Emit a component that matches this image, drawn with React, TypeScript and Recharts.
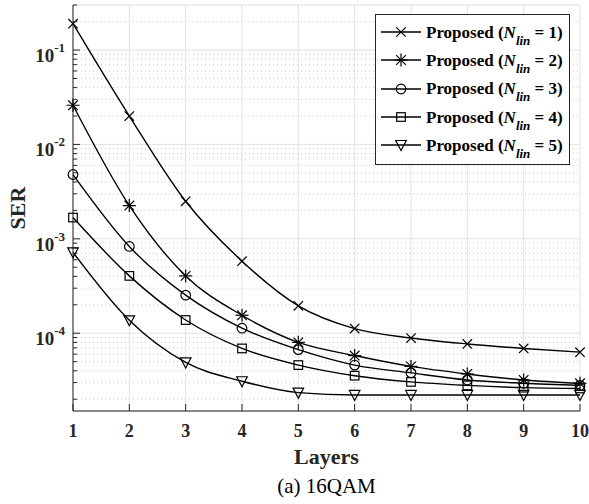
import React from "react";
import {
  LineChart,
  Line,
  XAxis,
  YAxis,
  CartesianGrid,
  Legend,
} from "recharts";

// layers on the x axis
const layers = [1, 2, 3, 4, 5, 6, 7, 8, 9, 10];

// SER, one array per N_lin
const serN1 = [0.19, 0.02, 2.5e-3, 5.8e-4, 1.95e-4, 1.12e-4, 8.9e-5, 7.7e-5, 6.9e-5, 6.3e-5];
const serN2 = [2.6e-2, 2.25e-3, 4.05e-4, 1.55e-4, 8.0e-5, 5.8e-5, 4.45e-5, 3.7e-5, 3.2e-5, 2.95e-5];
const serN3 = [4.8e-3, 8.3e-4, 2.53e-4, 1.13e-4, 6.7e-5, 4.6e-5, 3.8e-5, 3.2e-5, 2.95e-5, 2.8e-5];
const serN4 = [1.68e-3, 4.05e-4, 1.38e-4, 6.9e-5, 4.6e-5, 3.55e-5, 3.05e-5, 2.8e-5, 2.65e-5, 2.6e-5];
const serN5 = [7.2e-4, 1.37e-4, 4.9e-5, 3.1e-5, 2.35e-5, 2.22e-5, 2.22e-5, 2.22e-5, 2.22e-5, 2.22e-5];

const nLinValues = ["1", "2", "3", "4", "5"];
const seriesKeys = ["n1", "n2", "n3", "n4", "n5"];
const markerShapes = ["cross", "star", "circle", "square", "triangle"];

const yDomain: [number, number] = [1.5e-5, 0.3];
const decadeTicks = [1e-4, 1e-3, 1e-2, 1e-1];
const minorTicks = [
  2e-5, 3e-5, 4e-5, 5e-5, 6e-5, 7e-5, 8e-5, 9e-5,
  2e-4, 3e-4, 4e-4, 5e-4, 6e-4, 7e-4, 8e-4, 9e-4,
  2e-3, 3e-3, 4e-3, 5e-3, 6e-3, 7e-3, 8e-3, 9e-3,
  2e-2, 3e-2, 4e-2, 5e-2, 6e-2, 7e-2, 8e-2, 9e-2,
  2e-1, 3e-1,
];
const yTicks = [...minorTicks, ...decadeTicks].sort((a, b) => a - b);

const data = layers.map((layer, i) => ({
  layer,
  n1: serN1[i],
  n2: serN2[i],
  n3: serN3[i],
  n4: serN4[i],
  n5: serN5[i],
}));

const FONT = "'Liberation Serif', 'Times New Roman', serif";
const INK = "#262626";

const isDecade = (v: number) => {
  const l = Math.log10(v);
  return Math.abs(l - Math.round(l)) < 1e-6;
};

function Marker({ shape, cx, cy }: { shape: string; cx: number; cy: number }) {
  const p = { stroke: "#000", strokeWidth: 1.2, fill: "none" };
  switch (shape) {
    case "cross":
      return (
        <g {...p}>
          <line x1={cx - 4.7} y1={cy - 4.7} x2={cx + 4.7} y2={cy + 4.7} />
          <line x1={cx - 4.7} y1={cy + 4.7} x2={cx + 4.7} y2={cy - 4.7} />
        </g>
      );
    case "star":
      return (
        <g {...p}>
          <line x1={cx - 4.8} y1={cy - 4.8} x2={cx + 4.8} y2={cy + 4.8} />
          <line x1={cx - 4.8} y1={cy + 4.8} x2={cx + 4.8} y2={cy - 4.8} />
          <line x1={cx - 6.5} y1={cy} x2={cx + 6.5} y2={cy} />
          <line x1={cx} y1={cy - 6.5} x2={cx} y2={cy + 6.5} />
        </g>
      );
    case "circle":
      return <circle cx={cx} cy={cy} r={4.8} {...p} />;
    case "square":
      return <rect x={cx - 4.3} y={cy - 4.3} width={8.6} height={8.6} {...p} />;
    default:
      return (
        <polygon
          points={`${cx - 5.3},${cy - 4.5} ${cx + 5.3},${cy - 4.5} ${cx},${cy + 5.5}`}
          {...p}
        />
      );
  }
}

const XTickBottom = (props: any) => {
  const { x, y, payload } = props;
  return (
    <g>
      <line x1={x} y1={y} x2={x} y2={y - 7} stroke={INK} />
      <text
        x={x}
        y={y + 26}
        textAnchor="middle"
        fontFamily={FONT}
        fontWeight="bold"
        fontSize={18}
        fill={INK}
      >
        {payload.value}
      </text>
    </g>
  );
};

const XTickTop = (props: any) => {
  const { x, y } = props;
  return <line x1={x} y1={y} x2={x} y2={y + 7} stroke={INK} />;
};

const YTickLeft = (props: any) => {
  const { x, y, payload } = props;
  const v = payload.value as number;
  const major = isDecade(v);
  return (
    <g>
      <line x1={x} y1={y} x2={x + (major ? 7 : 4)} y2={y} stroke={INK} />
      {major && (
        <text
          x={x - 8}
          y={y + 12}
          textAnchor="end"
          fontFamily={FONT}
          fontWeight="bold"
          fontSize={19}
          fill={INK}
        >
          10
          <tspan dy={-10} fontSize={13}>
            {String(Math.round(Math.log10(v)))}
          </tspan>
        </text>
      )}
    </g>
  );
};

const YTickRight = (props: any) => {
  const { x, y, payload } = props;
  const major = isDecade(payload.value);
  return <line x1={x} y1={y} x2={x - (major ? 7 : 4)} y2={y} stroke={INK} />;
};

const LegendBox = () => (
  <div
    style={{
      width: 195,
      boxSizing: "border-box",
      border: "1px solid #262626",
      background: "#fff",
      padding: "3px 0 5px 5px",
      fontFamily: FONT,
      fontWeight: "bold",
      fontSize: 17,
      color: "#000",
    }}
  >
    {nLinValues.map((n, i) => (
      <div
        key={n}
        style={{ display: "flex", alignItems: "center", height: 28.3, whiteSpace: "nowrap" }}
      >
        <svg width={40} height={20} style={{ marginRight: 5, flexShrink: 0 }}>
          <line x1={0} y1={10} x2={40} y2={10} stroke="#000" strokeWidth={1.3} />
          <Marker shape={markerShapes[i]} cx={20} cy={10} />
        </svg>
        <span style={{ lineHeight: "17px" }}>
          Proposed (<i>N</i>
          <sub style={{ fontSize: 13, verticalAlign: -7, fontStyle: "italic", lineHeight: 0 }}>
            lin
          </sub>{" "}
          = {n})
        </span>
      </div>
    ))}
  </div>
);

export default function App() {
  return (
    <div style={{ position: "absolute", left: 0, top: 0, width: 589, height: 504, background: "#fff" }}>
      <LineChart
        width={589}
        height={504}
        data={data}
        margin={{ top: 5, right: 9, bottom: 0, left: 0 }}
      >
        <CartesianGrid
          yAxisId="minor"
          vertical={false}
          stroke="#c9c9c9"
          strokeDasharray="1 3"
        />
        <CartesianGrid yAxisId="major" stroke="#e2e2e2" />
        <XAxis
          dataKey="layer"
          type="number"
          domain={[1, 10]}
          ticks={layers}
          height={93}
          tickSize={0}
          tickMargin={0}
          tick={XTickBottom}
          axisLine={{ stroke: INK }}
          interval={0}
          label={({ viewBox }: any) => (
            <g>
              <text
                x={viewBox.x + viewBox.width / 2}
                y={viewBox.y + 53}
                textAnchor="middle"
                fontFamily={FONT}
                fontWeight="bold"
                fontSize={22}
                fill={INK}
              >
                Layers
              </text>
              <text
                x={viewBox.x + viewBox.width / 2}
                y={viewBox.y + 82}
                textAnchor="middle"
                fontFamily={FONT}
                fontSize={21}
                fill="#000"
              >
                (a) 16QAM
              </text>
            </g>
          )}
        />
        <XAxis
          xAxisId="top"
          orientation="top"
          dataKey="layer"
          type="number"
          domain={[1, 10]}
          ticks={layers}
          height={0}
          tickSize={0}
          tickMargin={0}
          tick={XTickTop}
          axisLine={{ stroke: INK }}
          interval={0}
        />
        <YAxis
          scale="log"
          type="number"
          domain={yDomain}
          allowDataOverflow
          ticks={yTicks}
          interval={0}
          width={73}
          tickSize={0}
          tickMargin={0}
          tick={YTickLeft}
          axisLine={{ stroke: INK }}
          label={({ viewBox }: any) => {
            const cy = viewBox.y + viewBox.height / 2;
            return (
              <text
                x={25}
                y={cy}
                transform={`rotate(-90, 25, ${cy})`}
                textAnchor="middle"
                fontFamily={FONT}
                fontWeight="bold"
                fontSize={22}
                fill={INK}
              >
                SER
              </text>
            );
          }}
        />
        <YAxis
          yAxisId="right"
          orientation="right"
          scale="log"
          type="number"
          domain={yDomain}
          allowDataOverflow
          ticks={yTicks}
          interval={0}
          width={0}
          tickSize={0}
          tickMargin={0}
          tick={YTickRight}
          axisLine={{ stroke: INK }}
        />
        <YAxis
          yAxisId="minor"
          hide
          scale="log"
          type="number"
          domain={yDomain}
          allowDataOverflow
          ticks={minorTicks}
          interval={0}
        />
        <YAxis
          yAxisId="major"
          hide
          scale="log"
          type="number"
          domain={yDomain}
          allowDataOverflow
          ticks={decadeTicks}
          interval={0}
        />
        {seriesKeys.map((k, i) => (
          <Line
            key={k}
            type="monotone"
            dataKey={k}
            stroke="#000"
            strokeWidth={1.4}
            isAnimationActive={false}
            activeDot={false}
            dot={(p: any) => (
              <Marker key={`${k}-${p.index}`} shape={markerShapes[i]} cx={p.cx} cy={p.cy} />
            )}
          />
        ))}
        <Legend
          layout="horizontal"
          align="center"
          verticalAlign="middle"
          content={<LegendBox />}
          wrapperStyle={{ top: 14, left: 375, width: "auto", height: "auto" }}
        />
      </LineChart>
    </div>
  );
}
